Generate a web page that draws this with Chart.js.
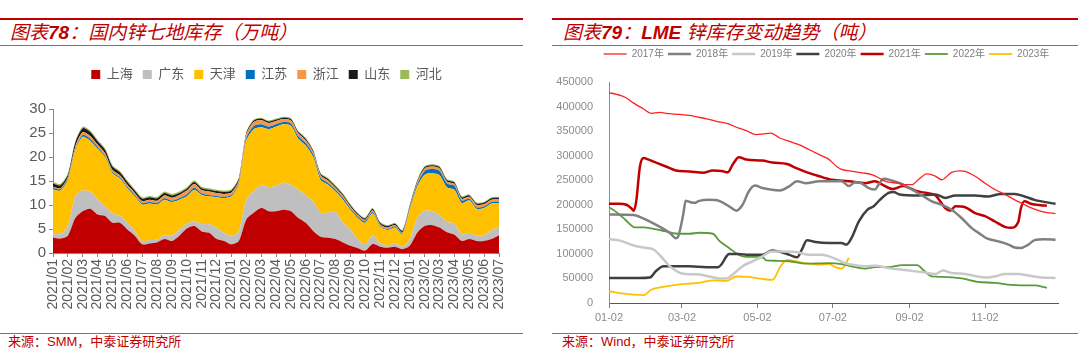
<!DOCTYPE html>
<html>
<head>
<meta charset="utf-8">
<script src="https://cdn.jsdelivr.net/npm/chart.js@4.4.0/dist/chart.umd.min.js"></script>
<style>
body { margin: 0; width: 1080px; height: 360px; background: #fff; position: relative; overflow: hidden; }
.rule { position: absolute; background: #c00000; }
.thin { position: absolute; height: 1px; background: #d0504d; }
.title { position: absolute; top: 23px; font-size: 19px; line-height: 20px; font-style: italic; color: #c00000;
         font-family: "Liberation Sans", "Noto Sans CJK SC", sans-serif; white-space: nowrap; }
.title b { font-weight: bold; }
.src { position: absolute; top: 334px; font-size: 13px; line-height: 16px; color: #c00000;
       font-family: "Liberation Sans", "Noto Sans CJK SC", sans-serif; white-space: nowrap; }
.box { position: absolute; }
</style>
</head>
<body>
<div class="rule" style="left:0;top:18px;width:523px;height:2px"></div>
<div class="title" style="left:10px">图表<b>78</b>：国内锌七地库存（万吨）</div>
<div class="thin" style="left:0;top:45px;width:523px"></div>
<div class="box" style="left:0;top:58px;width:520px;height:265px"><canvas id="stockChart"></canvas></div>
<div class="thin" style="left:0;top:333px;width:523px"></div>
<div class="src" style="left:8px">来源：SMM，中泰证券研究所</div>

<div class="rule" style="left:552px;top:18px;width:526px;height:2px"></div>
<div class="title" style="left:563px">图表<b>79</b>：<b>LME</b> 锌库存变动趋势（吨）</div>
<div class="thin" style="left:552px;top:45px;width:526px"></div>
<div class="box" style="left:551px;top:45px;width:529px;height:282px"><canvas id="lmeChart"></canvas></div>
<div class="thin" style="left:552px;top:333px;width:526px"></div>
<div class="src" style="left:562px">来源：Wind，中泰证券研究所</div>

<script>
// ---- 国内锌七地库存 (万吨), half-month steps from 2021/01 to 2023/07 ----
const months = ['2021/01','2021/02','2021/03','2021/04','2021/05','2021/06','2021/07','2021/08','2021/09','2021/10','2021/11','2021/12',
                '2022/01','2022/02','2022/03','2022/04','2022/05','2022/06','2022/07','2022/08','2022/09','2022/10','2022/11','2022/12',
                '2023/01','2023/02','2023/03','2023/04','2023/05','2023/06','2023/07'];
const shanghai = [3.2,3.0,3.6,7.3,8.7,9.2,8.0,7.7,6.3,6.3,4.9,3.6,1.8,2.0,2.2,2.9,2.5,3.6,5.1,5.6,4.5,4.2,2.9,2.5,1.8,2.5,
                  7.0,8.4,9.4,8.7,8.7,9.0,8.7,7.3,6.3,4.6,3.4,3.2,2.9,2.2,1.5,1.0,0.5,1.9,1.3,1.1,1.3,0.8,
                  1.5,4.2,5.6,5.8,5.3,4.3,3.8,2.5,2.9,2.5,2.5,2.9,3.7];
const guangdong = [1.0,0.9,2.0,4.5,4.3,3.6,3.1,2.0,2.0,1.5,1.4,1.0,0.7,0.7,0.6,0.8,1.1,1.3,1.0,1.0,1.5,1.8,2.4,1.7,1.8,2.1,
                   4.1,4.4,4.8,5.0,5.3,5.7,5.5,5.9,5.8,6.2,5.0,5.2,5.8,4.1,3.4,1.9,1.3,1.8,0.8,0.5,0.8,0.5,
                   1.4,3.1,3.2,2.9,2.7,2.2,2.3,1.4,1.3,1.1,1.2,1.9,1.6];
const tianjin = [9.1,9.1,9.6,9.6,11.2,10.6,10.6,10.3,8.3,7.7,7.2,7.2,7.6,7.6,7.3,7.4,7.0,6.2,5.7,6.6,6.1,5.8,6.3,7.2,8.2,9.6,
                 12.3,13.0,12.0,12.1,12.3,12.1,12.3,10.6,10.3,9.2,6.8,5.8,4.1,4.8,4.1,4.4,4.5,4.6,3.4,3.2,3.2,2.6,
                 6.1,6.5,7.5,7.9,8.2,7.2,7.1,6.5,6.8,5.6,5.7,5.5,5.1];
const jiangsu = [0.3,0.3,0.3,0.3,0.4,0.4,0.4,0.3,0.3,0.3,0.3,0.3,0.3,0.3,0.3,0.3,0.3,0.3,0.4,0.4,0.3,0.3,0.3,0.3,0.3,0.3,
                 0.5,0.6,0.6,0.5,0.5,0.5,0.5,0.5,0.5,0.5,0.5,0.4,0.4,0.4,0.3,0.3,0.3,0.3,0.2,0.2,0.2,0.2,
                 0.3,0.5,0.8,0.9,0.9,0.8,0.8,0.5,0.3,0.3,0.3,0.3,0.3];
const zhejiang = [0.2,0.2,0.3,0.5,0.6,0.6,0.5,0.5,0.4,0.4,0.4,0.4,0.4,0.5,0.5,0.6,0.6,0.7,0.8,0.8,0.7,0.7,0.6,0.6,0.5,0.6,
                  0.8,0.9,0.9,0.8,0.7,0.6,0.6,0.6,0.6,0.5,0.5,0.5,0.4,0.4,0.4,0.3,0.3,0.3,0.3,0.3,0.3,0.2,
                  0.3,0.4,0.5,0.5,0.5,0.4,0.4,0.4,0.4,0.5,0.5,0.5,0.5];
const shandong = [0.7,0.6,0.5,0.8,0.8,0.8,0.7,0.7,0.7,0.6,0.6,0.5,0.5,0.5,0.5,0.5,0.5,0.4,0.4,0.4,0.4,0.4,0.4,0.4,0.4,0.4,
                  0.3,0.3,0.3,0.3,0.3,0.3,0.3,0.3,0.3,0.3,0.3,0.3,0.3,0.3,0.3,0.3,0.3,0.3,0.3,0.3,0.3,0.3,
                  0.3,0.3,0.3,0.3,0.3,0.3,0.3,0.3,0.3,0.3,0.3,0.3,0.3];
const hebei = [0.3,0.3,0.3,0.3,0.3,0.3,0.3,0.3,0.3,0.3,0.3,0.3,0.3,0.3,0.3,0.3,0.3,0.3,0.3,0.3,0.3,0.3,0.3,0.3,0.3,0.3,
               0.2,0.2,0.2,0.2,0.2,0.2,0.2,0.2,0.2,0.2,0.2,0.2,0.2,0.2,0.2,0.2,0.2,0.2,0.2,0.2,0.2,0.2,
               0.2,0.2,0.2,0.2,0.2,0.2,0.2,0.2,0.2,0.2,0.2,0.2,0.2];

// ---- LME 锌库存 (吨), day offset from 01-02 ----
const lmeTickDays = [0, 59, 120, 181, 243, 304];
const lmeTickLabels = ['01-02', '03-02', '05-02', '07-02', '09-02', '11-02'];
const lme2017Days = [0,6,13,20,28,34,37,41,46,57,65,71,79,87,96,105,111,119,124,131,138,146,154,162,170,178,184,188,197,205,213,218,222,226,234,239,245,250,257,264,269,277,284,288,296,304,312,320,328,336,344,352,361];
const lme2017 = [428000,425000,419000,407000,395000,386000,387000,388000,386000,384000,382000,379000,375000,370000,365000,356000,351000,343000,344000,346000,336000,329000,322000,312000,302000,292000,278000,272000,268000,265000,261000,255000,249000,246000,244000,241000,241000,251000,263000,258000,251000,266000,269000,268000,258000,244000,231000,221000,210000,200000,191000,185000,182000];
const lme2018Days = [0,20,28,36,44,50,54,56,60,62,65,69,73,81,89,97,103,108,113,118,124,138,146,152,159,170,183,188,194,199,203,210,215,218,222,229,237,245,253,261,269,277,285,293,301,306,314,323,328,333,339,344,352,361];
const lme2018 = [180000,179000,172000,162000,151000,141000,132000,136000,180000,208000,206000,204000,208000,210000,208000,197000,188000,200000,227000,239000,234000,229000,238000,248000,244000,248000,248000,248000,238000,246000,245000,234000,231000,241000,253000,249000,242000,231000,219000,207000,200000,190000,173000,153000,139000,131000,126000,119000,113000,112000,119000,128000,130000,129000];
const lme2019Days = [0,9,20,28,36,42,49,56,62,73,81,89,95,100,108,116,124,131,138,151,162,172,183,191,199,207,215,226,239,253,264,270,277,288,298,306,312,320,331,339,349,361];
const lme2019 = [130000,127000,117000,113000,109000,95000,75000,63000,59000,58000,54000,50000,50000,58000,75000,85000,95000,105000,105000,104000,98000,98000,90000,81000,77000,75000,76000,71000,67000,63000,59000,66000,61000,59000,54000,52000,54000,59000,59000,56000,52000,51000];
const lme2020Days = [0,25,33,38,44,54,65,79,88,91,95,97,105,113,124,132,139,146,152,156,160,167,178,188,192,196,202,209,214,219,226,230,235,250,264,272,280,296,306,317,328,336,344,361];
const lme2020 = [51000,51000,52000,65000,75000,75000,75000,73000,73000,79000,95000,100000,100000,98000,98000,107000,104000,98000,93000,109000,128000,124000,122000,122000,119000,132000,166000,190000,197000,210000,224000,226000,221000,219000,221000,214000,219000,219000,217000,222000,222000,217000,210000,202000];
const lme2021Days = [0,8,14,18,20,22,25,28,32,38,46,54,65,76,84,91,96,100,105,111,124,132,144,151,159,170,180,194,207,215,221,229,238,243,250,257,264,272,276,280,288,296,304,312,320,325,331,333,336,341,349,354];
const lme2021 = [202000,202000,200000,193000,188000,207000,278000,295000,292000,286000,278000,270000,268000,265000,270000,269000,266000,282000,297000,292000,290000,286000,283000,275000,267000,258000,251000,248000,244000,248000,241000,232000,238000,234000,227000,224000,219000,193000,188000,197000,195000,183000,177000,166000,155000,153000,166000,193000,207000,202000,199000,198000];
const lme2022Days = [0,6,13,21,28,36,46,57,65,73,84,89,97,105,111,119,125,127,135,146,159,178,188,199,207,215,226,237,249,255,261,269,285,298,312,325,333,344,354];
const lme2022 = [195000,185000,170000,154000,154000,151000,146000,141000,141000,143000,141000,127000,112000,98000,94000,94000,92000,87000,86000,85000,80000,81000,79000,73000,70000,73000,73000,77000,77000,65000,54000,53000,50000,43000,41000,37000,36000,36000,31000];
const lme2023Days = [0,12,20,28,34,44,54,62,73,84,95,103,113,124,132,139,144,151,159,170,178,183,188,194];
const lme2023 = [24000,19000,17000,16000,27000,33000,37000,39000,41000,46000,45000,54000,53000,49000,47000,76000,88000,85000,81000,78000,79000,73000,70000,92000];

Chart.defaults.font.family = '"Liberation Sans", "Noto Sans CJK SC", sans-serif';

// adds empty room under the legend and nudges it sideways
const legendGap = {
    id: 'legendGap',
    beforeInit(chart, args, opts) {
        const fit = chart.legend.fit;
        chart.legend.fit = function () {
            fit.bind(chart.legend)();
            this.height += opts.extra || 0;
        };
    },
    afterLayout(chart, args, opts) {
        chart.legend.left += opts.shift || 0;
        chart.legend.right += opts.shift || 0;
    }
};

// half-month categories, label only on month starts
const periods = [];
for (let i = 0; i < shanghai.length; i++) {
    periods.push(i % 2 === 0 ? months[i / 2] : '');
}

function area(label, data, color, i) {
    return {
        label: label,
        data: data,
        backgroundColor: color,
        borderColor: color,
        borderWidth: 0,
        pointRadius: 0,
        tension: 0.25,
        fill: i === 0 ? 'origin' : '-1'
    };
}

new Chart(document.getElementById('stockChart'), {
    type: 'line',
    data: {
        labels: periods,
        datasets: [
            area('上海', shanghai, '#c00000', 0),
            area('广东', guangdong, '#bfbfbf', 1),
            area('天津', tianjin, '#ffc000', 2),
            area('江苏', jiangsu, '#0070c0', 3),
            area('浙江', zhejiang, '#f79646', 4),
            area('山东', shandong, '#1a1a1a', 5),
            area('河北', hebei, '#9bbb59', 6)
        ]
    },
    plugins: [legendGap],
    options: {
        responsive: true,
        maintainAspectRatio: false,
        animation: false,
        layout: { padding: { left: 0, right: 21, top: 0, bottom: 0 } },
        plugins: {
            legendGap: { extra: 18, shift: 17 },
            tooltip: { enabled: false },
            legend: {
                position: 'top',
                labels: { boxWidth: 9, boxHeight: 9, padding: 10, color: '#595959', font: { size: 13 } }
            }
        },
        scales: {
            x: {
                offset: false,
                grid: { drawOnChartArea: false, drawTicks: true, tickLength: 4, color: '#868686' },
                border: { color: '#868686' },
                ticks: {
                    autoSkip: false, minRotation: 90, maxRotation: 90, padding: 2,
                    color: '#595959', font: { size: 14 },
                    callback: function (v, i) { return periods[i] === '' ? null : periods[i]; }
                },
                afterFit: function (scale) { scale.height = 70; }
            },
            y: {
                stacked: true,
                min: 0, max: 30,
                grid: { drawOnChartArea: false, drawTicks: true, tickLength: 4, color: '#868686' },
                border: { color: '#868686' },
                ticks: { stepSize: 5, padding: 3, color: '#595959', font: { size: 15 } },
                afterFit: function (scale) { scale.width = 53; }
            }
        }
    }
});

function lmeLine(label, days, values, color, width) {
    return {
        label: label,
        data: days.map((d, i) => ({ x: d, y: values[i] })),
        borderColor: color,
        backgroundColor: color,
        borderWidth: width,
        pointRadius: 0,
        pointStyle: 'line',
        cubicInterpolationMode: 'monotone',
        fill: false
    };
}

new Chart(document.getElementById('lmeChart'), {
    type: 'line',
    data: {
        datasets: [
            lmeLine('2017年', lme2017Days, lme2017, '#ff2020', 1.3),
            lmeLine('2018年', lme2018Days, lme2018, '#808080', 2.5),
            lmeLine('2019年', lme2019Days, lme2019, '#c8c8c8', 2.5),
            lmeLine('2020年', lme2020Days, lme2020, '#404040', 2.5),
            lmeLine('2021年', lme2021Days, lme2021, '#c00000', 2.5),
            lmeLine('2022年', lme2022Days, lme2022, '#5a9a3a', 1.8),
            lmeLine('2023年', lme2023Days, lme2023, '#ffc000', 1.8)
        ]
    },
    plugins: [legendGap],
    options: {
        responsive: true,
        maintainAspectRatio: false,
        animation: false,
        layout: { padding: { left: 0, right: 22, top: 0, bottom: 0 } },
        plugins: {
            legendGap: { extra: 13, shift: 22 },
            tooltip: { enabled: false },
            legend: {
                position: 'top',
                labels: { usePointStyle: true, pointStyleWidth: 23, padding: 4, color: '#7f7f7f', font: { size: 10 } }
            }
        },
        scales: {
            x: {
                type: 'linear',
                min: 0, max: 363,
                grid: { drawOnChartArea: false, drawTicks: true, tickLength: 5, color: '#7f7f7f' },
                border: { color: '#595959' },
                afterBuildTicks: function (scale) { scale.ticks = lmeTickDays.map(v => ({ value: v })); },
                ticks: {
                    padding: 3, color: '#8c8c8c', font: { size: 11 },
                    callback: function (v) { return lmeTickLabels[lmeTickDays.indexOf(v)]; }
                },
                afterFit: function (scale) { scale.height = 24; }
            },
            y: {
                min: 0, max: 450000,
                grid: { display: false },
                border: { color: '#8c8c8c' },
                ticks: {
                    stepSize: 50000, padding: 8, color: '#8c8c8c', font: { size: 11 },
                    callback: function (v) { return String(v); }
                },
                afterFit: function (scale) { scale.width = 58; }
            }
        }
    }
});
</script>
</body>
</html>
